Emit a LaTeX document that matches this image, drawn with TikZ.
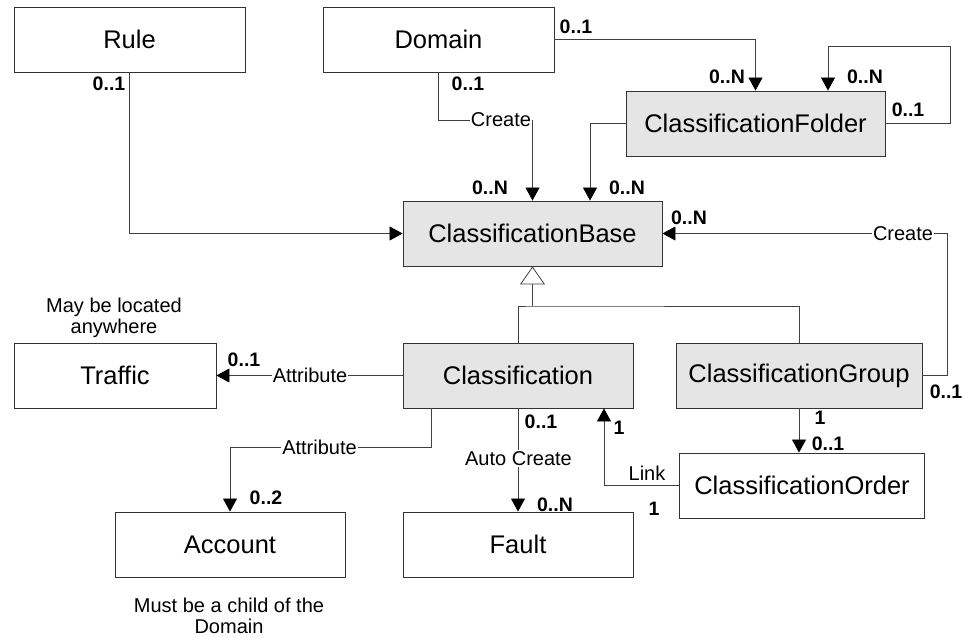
\documentclass[tikz,border=0pt]{standalone}
\usepackage{fontspec}
\setmainfont{Liberation Sans}
\usetikzlibrary{arrows.meta}
\begin{document}
\begin{tikzpicture}[x=1pt,y=-1pt,
  cls/.style={draw=black!80, line width=0.9pt, minimum height=65pt, inner sep=0pt,
    font=\fontsize{25.5}{30}\selectfont},
  shaded/.style={cls, fill=gray!20},
  link/.style={draw=black!75, line width=0.8pt},
  arr/.style={link, -{Triangle[length=13pt,width=14pt,color=black]}},
  gen/.style={link, -{Triangle[open,length=18pt,width=25pt,fill=white]}},
  mult/.style={font=\fontsize{19.5}{23}\selectfont\bfseries, inner sep=0pt},
  role/.style={font=\fontsize{20}{24}\selectfont, inner sep=1pt, fill=white},
  note/.style={font=\fontsize{20}{21}\selectfont, align=center, inner sep=0pt}]
\useasboundingbox (0,0) rectangle (965,637);

% classes
\node[cls, minimum width=231pt] (rule) at (129.5,39.5) {Rule};
\node[cls, minimum width=231pt] (domain) at (438.5,39.5) {Domain};
\node[shaded, minimum width=259pt] (folder) at (755.5,123.5) {ClassificationFolder};
\node[shaded, minimum width=259pt] (base) at (532.5,233.5) {ClassificationBase};
\node[cls, minimum width=202pt] (traffic) at (115,375.5) {Traffic};
\node[shaded, minimum width=230pt] (classif) at (518,375.5) {Classification};
\node[shaded, minimum width=246pt] (group) at (799,375.5) {ClassificationGroup};
\node[cls, minimum width=245pt] (order) at (802,485.5) {ClassificationOrder};
\node[cls, minimum width=230pt] (account) at (230,544.5) {Account};
\node[cls, minimum width=230pt] (fault) at (518,544.5) {Fault};

% associations
\draw[arr] (rule.south) |- (base.west);
\draw[arr] (domain.south) -- ++(0,48) -| (base.north);
\draw[arr] (domain.east) -| (folder.north);
\draw[arr] (folder.east) -- ++(65,0) -- ++(0,-77.5) -| ([xshift=72.5pt]folder.north);
\draw[arr] (folder.west) -| ([xshift=57.5pt]base.north);
\draw[arr] (group.east) -- ++(25,0) |- (base.east);
\draw[arr] (classif.west) -- (traffic.east);
\draw[arr] ([xshift=-87pt]classif.south) -- ++(0,39) -| (account.north);
\draw[arr] (classif.south) -- (fault.north);
\draw[arr] (order.west) -| ([xshift=86pt]classif.south);
\draw[arr] (group.south) -- (group.south |- order.north);

% generalization
\coordinate (gj) at (532.5,306);
\draw[link] (classif.north) |- (gj) -| (group.north);
\draw[gen] (gj) -- (base.south);

% association names
\node[role] (lcreate1) at (501,119.5) {Create};
\node[role] (lcreate2) at (903,233.5) {Create};
\node[role] (lattr1) at (310,375) {Attribute};
\node[role] (lattr2) at (319.5,447) {Attribute};
\node[role] (lauto) at (518.5,458.5) {Auto Create};
\node[role, fill=none] (llink) at (647,473) {Link};

% multiplicities
\node[mult] (m1) at (109,83.5) {0..1};
\node[mult] (m2) at (468,84) {0..1};
\node[mult] (m3) at (576,26.5) {0..1};
\node[mult] (m4) at (490,187.5) {0..N};
\node[mult] (m5) at (627,187.5) {0..N};
\node[mult] (m6) at (727,76.5) {0..N};
\node[mult] (m7) at (865,76.5) {0..N};
\node[mult] (m8) at (908,110) {0..1};
\node[mult] (m9) at (689,217.5) {0..N};
\node[mult] (m10) at (946,392) {0..1};
\node[mult] (m11) at (244,360) {0..1};
\node[mult] (m12) at (266,498) {0..2};
\node[mult] (m13) at (541,421.5) {0..1};
\node[mult] (m14) at (555,505) {0..N};
\node[mult] (m15) at (619,428) {1};
\node[mult] (m16) at (654,509) {1};
\node[mult] (m17) at (820,417.5) {1};
\node[mult] (m18) at (828,444) {0..1};

% notes
\node[note] (n1) at (114,318) {May be located\\anywhere};
\node[note] (n2) at (229,615.5) {Must be a child of the\\Domain};
\end{tikzpicture}
\end{document}
